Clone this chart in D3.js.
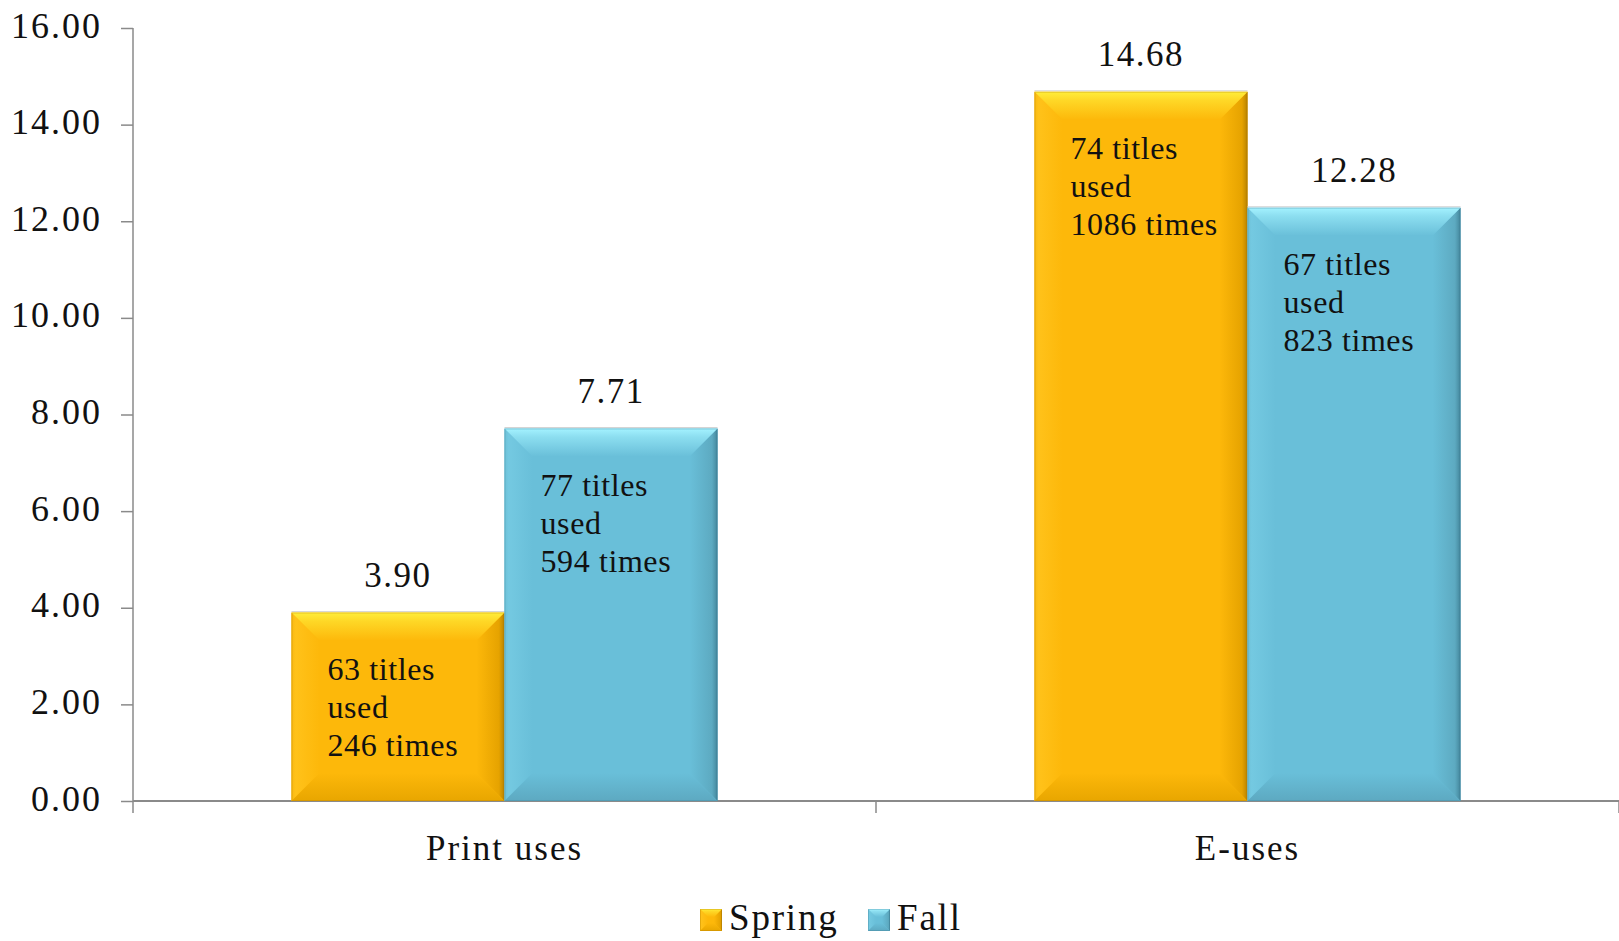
<!DOCTYPE html>
<html>
<head>
<meta charset="utf-8">
<script src="https://cdn.jsdelivr.net/npm/d3@7"></script>
<style>
  html, body { margin: 0; padding: 0; background: #ffffff; }
  svg { display: block; }
  text { font-family: "Liberation Serif", "Times New Roman", serif; fill: #111; }
</style>
</head>
<body>
<svg id="chart" width="1619" height="941"></svg>
<script>
// ---- data ----
const categories = ["Print uses", "E-uses"];
const seriesNames = ["Spring", "Fall"];
const springValues = [3.90, 14.68];
const fallValues = [7.71, 12.28];
const springTitles = [63, 74];
const springTimes = [246, 1086];
const fallTitles = [77, 67];
const fallTimes = [594, 823];
const yTicks = [0, 2, 4, 6, 8, 10, 12, 14, 16];

// ---- layout ----
const plot = { left: 133, right: 1619, top: 28, bottom: 801 };
const bevel = 28;

const palette = {
  Spring: { base: "#FDB80A", hi: "#FFEE3A", left: "#FFC21A", right: "#E6A300", rightEdge: "#B07C00", bottom: "#E8A600" },
  Fall:   { base: "#69BFD9", hi: "#A4F2FF", left: "#74C9E1", right: "#5DAAC1", rightEdge: "#3E7F95", bottom: "#5DA9C1" }
};

const rows = categories.map((c, i) => ({
  category: c,
  bars: [
    { series: "Spring", value: springValues[i], titles: springTitles[i], times: springTimes[i] },
    { series: "Fall", value: fallValues[i], titles: fallTitles[i], times: fallTimes[i] }
  ]
}));

const svg = d3.select("#chart");

const x0 = d3.scaleBand().domain(categories).range([plot.left, plot.right]).paddingInner(0).paddingOuter(0);
const x1 = d3.scaleBand().domain(seriesNames).range([0, x0.bandwidth()]).paddingInner(0).paddingOuter(0.744);
const y = d3.scaleLinear().domain([0, 16]).range([plot.bottom, plot.top]);

// ---- gradients for the bevel faces ----
const defs = svg.append("defs");
seriesNames.forEach(s => {
  const p = palette[s];
  const g = (id, x1v, y1v, x2v, y2v, stops) => {
    const lg = defs.append("linearGradient").attr("id", id)
      .attr("x1", x1v).attr("y1", y1v).attr("x2", x2v).attr("y2", y2v);
    stops.forEach(([o, c]) => lg.append("stop").attr("offset", o).attr("stop-color", c));
  };
  const mix = (a, b, t) => d3.interpolateRgb(a, b)(t);
  g(`top-${s}`, 0, 0, 0, 1, [[0, p.hi], [0.3, mix(p.hi, p.base, 0.4)], [1, p.base]]);
  g(`left-${s}`, 0, 0, 1, 0, [[0, mix(p.left, p.right, 0.3)], [0.15, p.left], [1, p.base]]);
  g(`right-${s}`, 0, 0, 1, 0, [[0, p.base], [0.8, p.right], [0.92, mix(p.right, p.rightEdge, 0.5)], [1, p.rightEdge]]);
  g(`bottom-${s}`, 0, 0, 0, 1, [[0, p.base], [1, p.bottom]]);
});

// ---- axes ----
const axisColor = "#8a8a8a";
const yAxis = d3.axisLeft(y).tickValues(yTicks).tickSize(12).tickFormat(d => d3.format(".2f")(d));
const gy = svg.append("g").attr("transform", `translate(${plot.left},0)`).call(yAxis);
gy.select(".domain").remove();
gy.selectAll(".tick line").attr("stroke", axisColor).attr("stroke-width", 1.5);
gy.selectAll(".tick text")
  .attr("x", -31).attr("dy", null).attr("y", 9)
  .style("font-size", "36px").style("letter-spacing", "2px")
  .attr("fill", "#111");
svg.append("line").attr("x1", plot.left).attr("x2", plot.left)
  .attr("y1", plot.top).attr("y2", plot.bottom + 12)
  .attr("stroke", axisColor).attr("stroke-width", 1.5);

// x axis line and category dividers
svg.append("line").attr("x1", plot.left).attr("x2", plot.right)
  .attr("y1", plot.bottom).attr("y2", plot.bottom)
  .attr("stroke", axisColor).attr("stroke-width", 2);
const dividers = categories.map(c => x0(c)).concat([x0(categories[categories.length - 1]) + x0.bandwidth()]);
svg.selectAll("line.divider").data(dividers.slice(1)).join("line")
  .attr("class", "divider")
  .attr("x1", d => d).attr("x2", d => d)
  .attr("y1", plot.bottom).attr("y2", plot.bottom + 12)
  .attr("stroke", axisColor).attr("stroke-width", 1.5);

svg.selectAll("text.cat").data(categories).join("text")
  .attr("class", "cat")
  .attr("x", d => x0(d) + x0.bandwidth() / 2)
  .attr("y", plot.bottom + 59)
  .attr("text-anchor", "middle")
  .style("font-size", "35px").style("letter-spacing", "2px")
  .text(d => d);

// ---- bevelled bars ----
function drawBevelBar(g, bx, by, bw, bh, s, b) {
  const p = palette[s];
  const bb = Math.min(b, bh / 2, bw / 2);
  const xr = bx + bw, yb = by + bh;
  g.append("rect").attr("x", bx).attr("y", by).attr("width", bw).attr("height", bh).attr("fill", p.base);
  const poly = (pts, fill) => g.append("polygon").attr("points", pts.map(q => q.join(",")).join(" ")).attr("fill", fill);
  poly([[bx, by], [bx + bb, by + bb], [bx + bb, yb - bb], [bx, yb]], `url(#left-${s})`);
  poly([[xr, by], [xr, yb], [xr - bb, yb - bb], [xr - bb, by + bb]], `url(#right-${s})`);
  poly([[bx, yb], [bx + bb, yb - bb], [xr - bb, yb - bb], [xr, yb]], `url(#bottom-${s})`);
  poly([[bx, by], [xr, by], [xr - bb, by + bb], [bx + bb, by + bb]], `url(#top-${s})`);
  g.append("rect").attr("x", bx + 0.5).attr("y", by + 0.5).attr("width", bw - 1).attr("height", bh - 1)
    .attr("fill", "none").attr("stroke", d3.color(p.rightEdge).copy({ opacity: 0.3 })).attr("stroke-width", 1);
}

const groups = svg.selectAll("g.cat-group").data(rows).join("g")
  .attr("class", "cat-group")
  .attr("transform", d => `translate(${x0(d.category)},0)`);

groups.each(function (row) {
  const g = d3.select(this);
  row.bars.forEach(bar => {
    const bx = x1(bar.series), bw = x1.bandwidth();
    const by = y(bar.value), bh = y(0) - y(bar.value);
    const bg = g.append("g").attr("class", "bar");
    // faint edge above the bar
    bg.append("line").attr("x1", bx).attr("x2", bx + bw).attr("y1", by - 1).attr("y2", by - 1)
      .attr("stroke", "#d4d4d4").attr("stroke-width", 1);
    drawBevelBar(bg, bx, by, bw, bh, bar.series, bevel);

    // value label above the bar
    g.append("text")
      .attr("x", bx + bw / 2).attr("y", by - 26)
      .attr("text-anchor", "middle")
      .style("font-size", "35px").style("letter-spacing", "1.5px")
      .text(d3.format(".2f")(bar.value));

    // annotation inside the bar
    const lines = [`${bar.titles} titles`, "used", `${bar.times} times`];
    const t = g.append("text")
      .attr("x", bx + 36).attr("y", by + 67)
      .style("font-size", "32px").style("letter-spacing", "0.6px");
    lines.forEach((ln, i) => t.append("tspan").attr("x", bx + 36).attr("dy", i === 0 ? 0 : 38).text(ln));
  });
});

// ---- legend ----
const legendItems = [
  { name: "Spring", box: 700, text: 729 },
  { name: "Fall", box: 868, text: 897 }
];
const lg = svg.append("g").attr("class", "legend");
legendItems.forEach(it => {
  const g = lg.append("g");
  drawBevelBar(g, it.box, 909, 22, 22, it.name, 8);
  g.append("text").attr("x", it.text).attr("y", 930)
    .style("font-size", "37px").style("letter-spacing", "1.8px")
    .text(it.name);
});
</script>
</body>
</html>
